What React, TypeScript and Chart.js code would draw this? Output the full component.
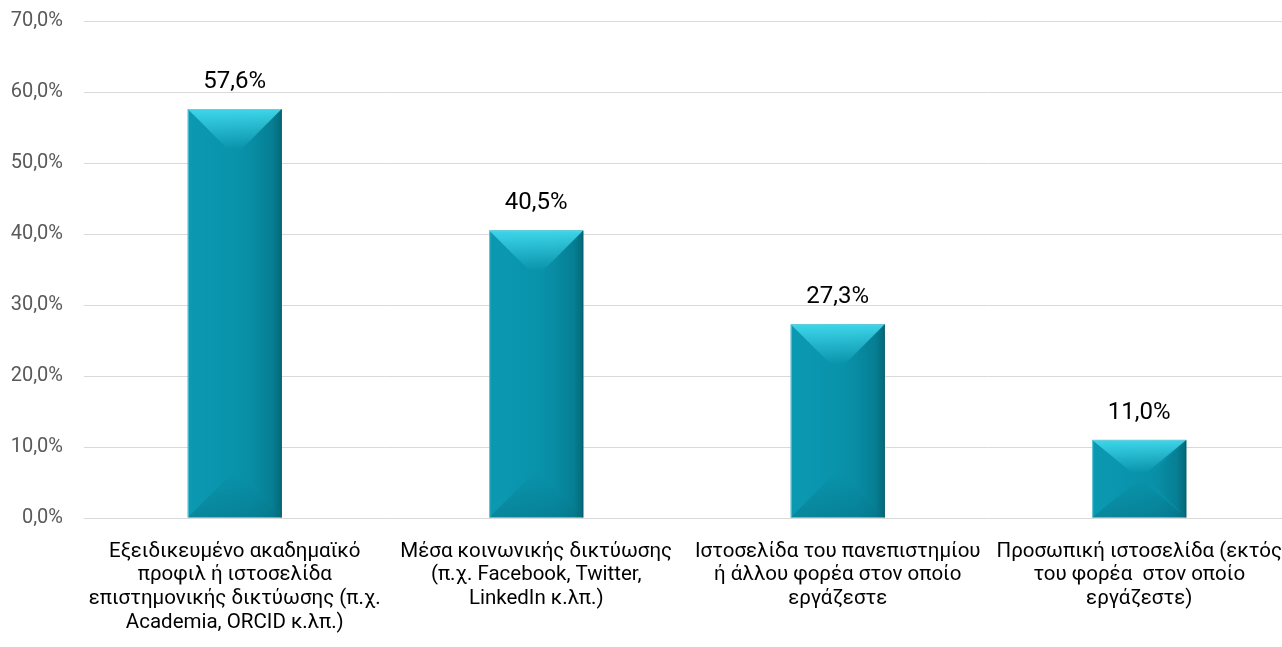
import React, { useEffect, useRef } from "react";
import { Chart, registerables } from "chart.js";

Chart.register(...registerables);

const categories: string[][] = [
  ["Εξειδικευμένο ακαδημαϊκό", "προφιλ ή ιστοσελίδα", "επιστημονικής δικτύωσης (π.χ.", "Academia, ORCID κ.λπ.)"],
  ["Μέσα κοινωνικής δικτύωσης", "(π.χ. Facebook, Twitter,", "LinkedIn κ.λπ.)"],
  ["Ιστοσελίδα του πανεπιστημίου", "ή άλλου φορέα στον οποίο", "εργάζεστε"],
  ["Προσωπική ιστοσελίδα (εκτός", "του φορέα  στον οποίο", "εργάζεστε)"],
];
const values: number[] = [57.6, 40.5, 27.3, 11.0];
const yTicks: number[] = [0, 10, 20, 30, 40, 50, 60, 70];

const FONT = "Roboto, 'Noto Sans', sans-serif";
const fmt = (v: number) => v.toFixed(1).replace(".", ",") + "%";

const bevelPlugin = {
  id: "bevel",
  afterDatasetsDraw(chart: any) {
    const ctx = chart.ctx as CanvasRenderingContext2D;
    const meta = chart.getDatasetMeta(0);
    meta.data.forEach((bar: any, i: number) => {
      const { x, y, base, width } = bar.getProps(["x", "y", "base", "width"], true);
      const l = x - width / 2;
      const r = x + width / 2;
      const t = y;
      const b = base;
      const h = b - t;
      const d = Math.min(width / 2, h / 2);
      ctx.save();
      const hg = ctx.createLinearGradient(l, 0, r, 0);
      hg.addColorStop(0, "#0B99B1");
      hg.addColorStop(0.7, "#0891A9");
      hg.addColorStop(0.9, "#07879D");
      hg.addColorStop(1, "#06717F");
      ctx.fillStyle = hg;
      ctx.fillRect(l, t, width, h);
      // top bevel
      const tg = ctx.createLinearGradient(0, t, 0, t + d * 0.85);
      tg.addColorStop(0, "rgba(62,214,234,1)");
      tg.addColorStop(1, "rgba(62,214,234,0)");
      ctx.fillStyle = tg;
      ctx.beginPath();
      ctx.moveTo(l, t);
      ctx.lineTo(r, t);
      ctx.lineTo(x, t + d);
      ctx.closePath();
      ctx.fill();
      // bottom bevel
      const bg = ctx.createLinearGradient(0, b, 0, b - d);
      bg.addColorStop(0, "rgba(0,80,95,0.25)");
      bg.addColorStop(1, "rgba(0,80,95,0)");
      ctx.fillStyle = bg;
      ctx.beginPath();
      ctx.moveTo(l, b);
      ctx.lineTo(r, b);
      ctx.lineTo(x, b - d);
      ctx.closePath();
      ctx.fill();
      // right bevel
      const rg = ctx.createLinearGradient(r, 0, r - d, 0);
      rg.addColorStop(0, "rgba(0,60,75,0.15)");
      rg.addColorStop(1, "rgba(0,60,75,0)");
      ctx.fillStyle = rg;
      ctx.beginPath();
      ctx.moveTo(r, t);
      ctx.lineTo(r, b);
      ctx.lineTo(r - d, b - d);
      ctx.lineTo(r - d, t + d);
      ctx.closePath();
      ctx.fill();
      // outline
      ctx.lineWidth = 1;
      ctx.strokeStyle = "rgba(110,205,220,0.9)";
      ctx.beginPath();
      ctx.moveTo(l + 0.5, b);
      ctx.lineTo(l + 0.5, t + 0.5);
      ctx.lineTo(r - 0.5, t + 0.5);
      ctx.stroke();
      ctx.strokeStyle = "rgba(4,95,110,0.9)";
      ctx.beginPath();
      ctx.moveTo(r - 0.5, t + 0.5);
      ctx.lineTo(r - 0.5, b);
      ctx.stroke();
      // value label
      ctx.fillStyle = "#000000";
      ctx.font = `24px ${FONT}`;
      ctx.textAlign = "center";
      ctx.textBaseline = "alphabetic";
      ctx.fillText(fmt(values[i]), x, t - 21);
      ctx.restore();
    });
  },
};

export default function App() {
  const ref = useRef<HTMLCanvasElement | null>(null);
  useEffect(() => {
    document.body.style.margin = "0";
    document.body.style.overflow = "hidden";
    const canvas = ref.current;
    if (!canvas) return;
    const chart = new Chart(canvas, {
      type: "bar",
      data: {
        labels: categories,
        datasets: [
          {
            data: values,
            backgroundColor: "rgba(0,0,0,0)",
            borderWidth: 0,
            categoryPercentage: 1,
            barPercentage: 0.312,
          },
        ],
      },
      options: {
        animation: false,
        responsive: false,
        maintainAspectRatio: false,
        layout: { padding: { top: 21, left: 0, right: 0, bottom: 0 } },
        plugins: { legend: { display: false }, tooltip: { enabled: false } },
        scales: {
          x: {
            grid: { display: false, drawTicks: false },
            border: { display: false },
            ticks: {
              color: "#000000",
              font: { family: FONT, size: 20.5, lineHeight: 1.15 },
              padding: 22,
              maxRotation: 0,
              autoSkip: false,
            },
            afterFit: (s: any) => {
              s.height = 129;
              s.paddingLeft = 0;
              s.paddingRight = 0;
            },
          },
          y: {
            min: 0,
            max: 70,
            afterBuildTicks: (s: any) => {
              s.ticks = yTicks.map((v) => ({ value: v }));
            },
            grid: { color: "#D9D9D9", lineWidth: 1, drawTicks: false },
            border: { display: false },
            ticks: {
              color: "#595959",
              font: { family: FONT, size: 20 },
              padding: 21,
              callback: (v: any) => fmt(Number(v)),
            },
            afterFit: (s: any) => {
              s.width = 84;
              s.paddingTop = 0;
              s.paddingBottom = 0;
            },
          },
        },
      },
      plugins: [bevelPlugin],
    });
    return () => chart.destroy();
  }, []);
  return (
    <div style={{ width: 1290, height: 647 }}>
      <canvas ref={ref} width={1290} height={647} style={{ width: 1290, height: 647, display: "block" }} />
    </div>
  );
}
